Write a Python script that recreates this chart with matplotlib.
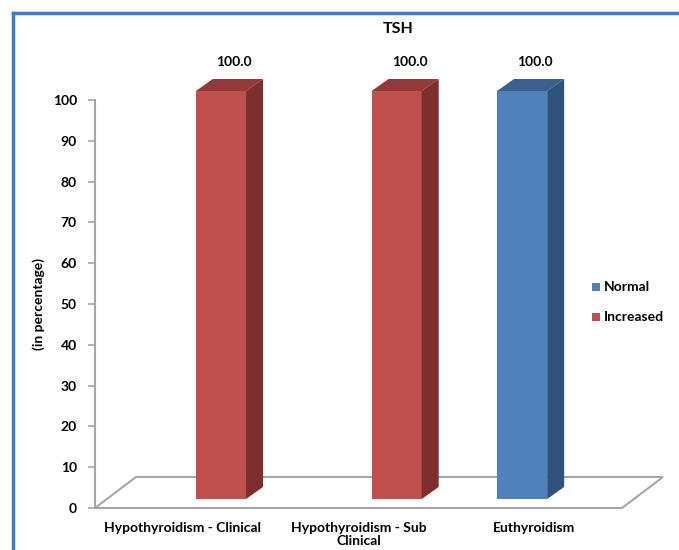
import matplotlib.pyplot as plt
from matplotlib.patches import Polygon
from matplotlib.lines import Line2D

plt.rcParams['font.family'] = ['Lato', 'DejaVu Sans']
plt.rcParams['font.weight'] = 'bold'
plt.rcParams['axes.labelweight'] = 'bold'

categories = ["Hypothyroidism - Clinical", "Hypothyroidism - Sub\nClinical", "Euthyroidism"]
series = ["Normal", "Increased"]
normal = [0.0, 0.0, 100.0]
increased = [100.0, 100.0, 0.0]

face = {"Normal": ("#4f81bd", "#3b6191", "#31527c"),
        "Increased": ("#c0504d", "#933a38", "#7e2f2d")}

W, H = 679, 550
fig = plt.figure(figsize=(W / 100, H / 100), dpi=100)

# plot area in pixels: x from 95 to 622, y from 508 (0) to 100 (100)
x0, x1, ytop, ybot = 95, 622, 100, 508
ax = fig.add_axes([x0 / W, 1 - ybot / H, (x1 - x0) / W, (ybot - ytop) / H])
ax.set_xlim(-0.5, 2.5)
ax.set_ylim(0, 100)
sx = (x1 - x0) / 3.0          # pixels per category
sy = (ybot - ytop) / 100.0    # pixels per unit

# floor depth and bar depth (pixels -> data units)
fdx, fdy = 41 / sx, 31 / sy
bdx0, bdy0 = 13 / sx, 9 / sy
bdx, bdy = 17 / sx, 12 / sy

gray = "#a6a6a6"
floor = [(-0.5, 0), (2.5, 0), (2.5 + fdx, fdy), (-0.5 + fdx, fdy)]
ax.add_patch(Polygon(floor, closed=True, fill=False, ec=gray, lw=1.5,
                     clip_on=False, zorder=1))

gap = 1.5
bw = 1.0 / (len(series) + gap)
for s_idx, (name, vals) in enumerate(zip(series, [normal, increased])):
    front, top, side = face[name]
    for i, v in enumerate(vals):
        if v <= 0:
            continue
        left = i + bdx0 + (s_idx - 0.5) * bw - bw / 2
        right = left + bw
        b = bdy0
        t = bdy0 + v
        ax.add_patch(Polygon([(left, b), (right, b), (right, t), (left, t)],
                             fc=front, ec="none", clip_on=False, zorder=3))
        ax.add_patch(Polygon([(left, t), (right, t), (right + bdx, t + bdy), (left + bdx, t + bdy)],
                             fc=top, ec="none", clip_on=False, zorder=3))
        ax.add_patch(Polygon([(right, b), (right + bdx, b + bdy), (right + bdx, t + bdy), (right, t)],
                             fc=side, ec="none", clip_on=False, zorder=3))
        ax.text(left + bw / 2 + 13 / sx, t + bdy + 17 / sy, f"{v:.1f}",
                ha="center", va="center", fontsize=10, fontweight="bold", clip_on=False)

for sp in ["top", "right", "bottom"]:
    ax.spines[sp].set_visible(False)
ax.spines["left"].set_color(gray)
ax.spines["left"].set_linewidth(1.5)
ax.set_yticks(range(0, 101, 10))
ax.tick_params(axis="y", colors=gray, length=5, width=1.2, labelcolor="black",
               labelsize=10, pad=8)
for lab in ax.get_yticklabels():
    lab.set_fontweight("bold")
ax.set_xticks(range(len(categories)))
ax.set_xticklabels(categories, fontsize=10, fontweight="bold", linespacing=1.1)
ax.tick_params(axis="x", length=0, pad=10)
ax.set_ylabel("(in percentage)", fontsize=10, fontweight="bold")
ax.yaxis.set_label_coords((45 - x0) / (x1 - x0), 0.5)
ax.patch.set_visible(False)

fig.text(398 / W, 1 - 29 / H, "TSH", ha="center", va="center", fontsize=11.5, fontweight="bold")

# legend
for k, name in enumerate(series):
    yy = 1 - (287 + 30 * k) / H
    fig.patches.append(plt.Rectangle((592 / W, yy - 4 / H), 8 / W, 8 / H, fc=face[name][0],
                                     transform=fig.transFigure, figure=fig))
    fig.text(604 / W, yy, name, ha="left", va="center", fontsize=10, fontweight="bold")

# outer chart border
border = "#3a7dc2"
fig.add_artist(Line2D([13 / W, 13 / W], [0, 1 - 13 / H], color=border, lw=2.5,
                      transform=fig.transFigure))
fig.add_artist(Line2D([13 / W, 1], [1 - 13 / H, 1 - 13 / H], color=border, lw=2.5,
                      transform=fig.transFigure))

fig.savefig("out.png", dpi=100)
